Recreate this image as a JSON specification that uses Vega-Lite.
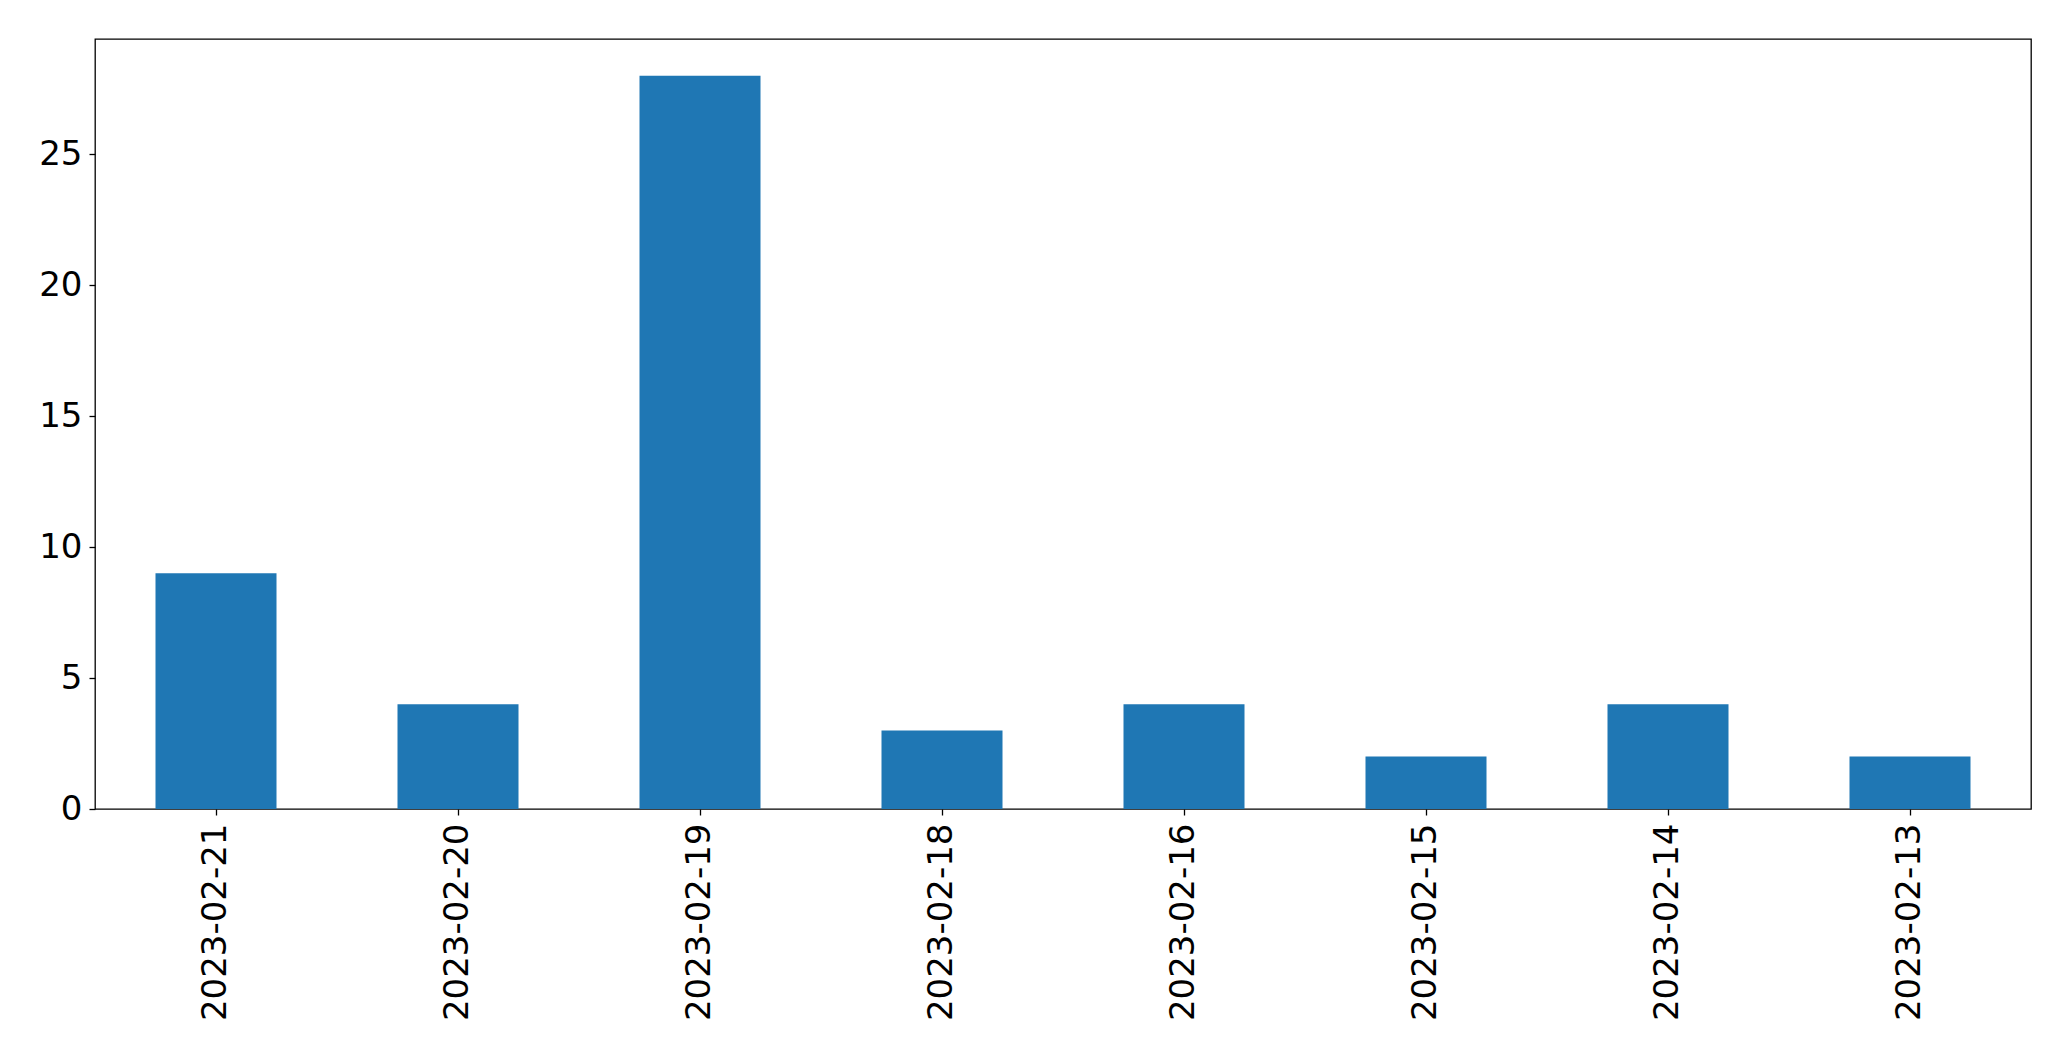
{
  "$schema": "https://vega.github.io/schema/vega-lite/v6.json",
  "autosize": {"type": "none"},
  "padding": {"left": 95, "top": 39, "right": 40, "bottom": 252},
  "width": 1936,
  "height": 770,
  "background": "white",
  "config": {
    "view": {"stroke": "black", "strokeWidth": 1.3},
    "axis": {
      "labelFont": "DejaVu Sans",
      "labelFontSize": 34,
      "labelColor": "black",
      "labelLimit": 0,
      "tickColor": "black",
      "tickSize": 6,
      "tickWidth": 1.3,
      "domain": false,
      "grid": false,
      "title": null
    }
  },
  "data": {
    "values": [
      {"date": "2023-02-21", "count": 9},
      {"date": "2023-02-20", "count": 4},
      {"date": "2023-02-19", "count": 28},
      {"date": "2023-02-18", "count": 3},
      {"date": "2023-02-16", "count": 4},
      {"date": "2023-02-15", "count": 2},
      {"date": "2023-02-14", "count": 4},
      {"date": "2023-02-13", "count": 2}
    ]
  },
  "mark": {"type": "bar", "color": "#1f77b4"},
  "encoding": {
    "x": {
      "field": "date",
      "type": "nominal",
      "sort": null,
      "scale": {"paddingInner": 0.5, "paddingOuter": 0.25},
      "axis": {"labelAngle": -90, "labelPadding": 8}
    },
    "y": {
      "field": "count",
      "type": "quantitative",
      "scale": {"domain": [0, 29.4], "nice": false, "zero": true},
      "axis": {"values": [0, 5, 10, 15, 20, 25], "labelPadding": 7}
    }
  }
}
